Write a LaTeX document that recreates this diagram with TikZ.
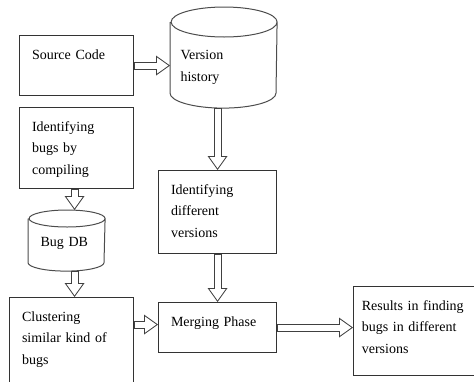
\documentclass[tikz,border=0pt]{standalone}
\usepackage{fontspec}
\setmainfont{Liberation Serif}
\usetikzlibrary{arrows.meta}

\tikzset{
  box/.style={draw=black!80, line width=1.1pt, anchor=north west, inner xsep=12.5pt,
    inner ysep=0pt, align=left, text height=23.5pt, font=\fontsize{14}{21.5}\selectfont},
  drum/.style={box, draw=none},
  drumline/.style={draw=black!70, line width=1pt},
  arrowout/.style={black!75, line width=8pt, -{Triangle[line width=0pt,length=14pt,width=20pt]}},
  arrowin/.style={white, line width=6pt, shorten <=0.6pt, shorten >=1.72pt,
    -{Triangle[line width=0pt,length=11.28pt,width=16.1pt]}},
}
\newcommand{\blockarrow}[2]{%
  \draw[arrowout] #1 -- #2;
  \draw[arrowin] #1 -- #2;}
% outline of a drum round a node: #1 node, #2 half width, #3 half height of the ends
\newcommand{\drumoutline}[3]{%
  \draw[drumline] ([yshift=-#3]#1.north west) -- ([yshift=#3]#1.south west)
    arc[start angle=180, end angle=360, x radius=#2, y radius=#3]
    -- ([yshift=-#3]#1.north east)
    arc[start angle=0, end angle=180, x radius=#2, y radius=#3]
    arc[start angle=180, end angle=360, x radius=#2, y radius=#3];}

\begin{document}
\begin{tikzpicture}[x=1pt,y=-1pt]
\useasboundingbox (0,0) rectangle (474,381);

% boxes
\node[box, text width=89pt, text depth=36.5pt] (src) at (19,35) {Source Code};
\node[box, text width=89pt, text depth=57.5pt] (bugs) at (19,107) {Identifying\\ bugs by\\ compiling};
\node[box, text width=99pt, text depth=69.5pt] (clus) at (9,297) {Clustering\\ similar kind of\\ bugs};
\node[box, text width=93pt, text depth=59.5pt] (ver) at (158,170) {Identifying\\ different\\ versions};
\node[box, text width=93pt, text depth=26.5pt] (merge) at (158,302) {Merging Phase};
\node[box, inner xsep=8.25pt, text width=104pt, text depth=65.5pt] (res) at (353,286) {Results in finding\\ bugs in different\\ versions};

% databases
\node[drum, inner xsep=10pt, text width=86pt, text height=52pt, text depth=48pt] (hist) at (170,7) {Version\\ history};
\node[drum, inner xsep=12pt, text width=52pt, text height=36pt, text depth=24pt] (db) at (28,210) {Bug DB};
\drumoutline{hist}{53pt}{15pt}
\drumoutline{db}{38pt}{8.5pt}

% arrows
\blockarrow{(src.east)}{(src.east -| hist.west)}
\blockarrow{(ver.north |- hist.south)}{(ver.north)}
\blockarrow{(ver.south)}{(merge.north)}
\blockarrow{([xshift=8pt]db.north |- bugs.south)}{([xshift=8pt]db.north)}
\blockarrow{([xshift=8pt]db.south)}{([xshift=8pt]db.south |- clus.north)}
\blockarrow{([yshift=3pt]clus.east |- merge.west)}{([yshift=3pt]merge.west)}
\blockarrow{(merge.east)}{(merge.east -| res.west)}
\end{tikzpicture}
\end{document}
